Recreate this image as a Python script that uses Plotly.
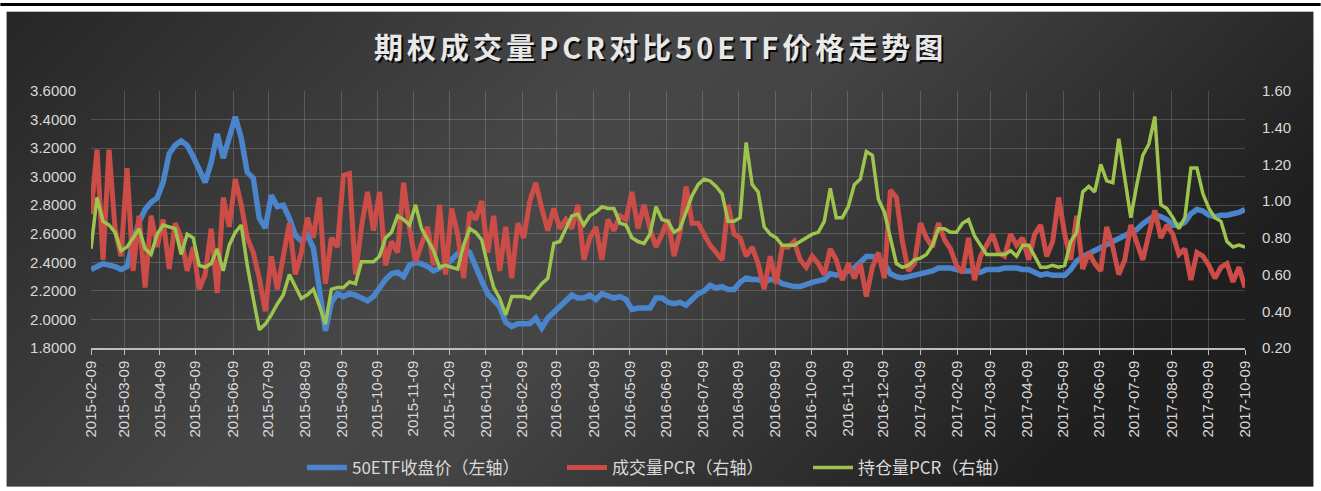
import base64
import plotly.graph_objects as go

# ---------------- data (~every 3-4 trading days) ----------------
TICK_LABELS = [
    "2015-02-09", "2015-03-09", "2015-04-09", "2015-05-09", "2015-06-09", "2015-07-09",
    "2015-08-09", "2015-09-09", "2015-10-09", "2015-11-09", "2015-12-09", "2016-01-09",
    "2016-02-09", "2016-03-09", "2016-04-09", "2016-05-09", "2016-06-09", "2016-07-09",
    "2016-08-09", "2016-09-09", "2016-10-09", "2016-11-09", "2016-12-09", "2017-01-09",
    "2017-02-09", "2017-03-09", "2017-04-09", "2017-05-09", "2017-06-09", "2017-07-09",
    "2017-08-09", "2017-09-09", "2017-10-09",
]
# position of each monthly label along the sample index (category axis of trading days)
TICK_POS = [0, 5.49, 11.47, 17.39, 23.66, 29.48, 35.58, 41.74, 47.66, 53.64, 59.63,
            65.68, 71.77, 77.37, 83.64, 89.62, 95.71, 101.81, 107.75, 113.83, 119.82,
            125.92, 131.74, 138.01, 144.10, 149.65, 155.69, 161.72, 167.71, 173.53,
            179.80, 185.90, 192.0]

etf_close = [
    2.35, 2.37, 2.39, 2.38, 2.37, 2.35, 2.37, 2.55, 2.68, 2.77,
    2.82, 2.85, 2.96, 3.16, 3.22, 3.25, 3.22, 3.14, 3.06, 2.96,
    3.10, 3.30, 3.13, 3.29, 3.42, 3.27, 3.03, 2.99, 2.71, 2.64,
    2.87, 2.79, 2.80, 2.71, 2.59, 2.55, 2.59, 2.50, 2.20,
    1.92, 2.12, 2.18, 2.16, 2.18, 2.17, 2.15, 2.13, 2.16, 2.22, 2.28,
    2.32, 2.33, 2.30, 2.38, 2.40, 2.39, 2.37, 2.34, 2.36, 2.38,
    2.42, 2.46, 2.50, 2.47, 2.36, 2.27, 2.18, 2.14, 2.09, 1.98,
    1.95, 1.97, 1.97, 1.97, 2.01, 1.94, 2.01, 2.05,
    2.10, 2.13, 2.17, 2.15, 2.15, 2.17, 2.14, 2.18, 2.16, 2.15,
    2.16, 2.14, 2.07, 2.08, 2.08, 2.08, 2.15, 2.15, 2.12, 2.11,
    2.12, 2.10, 2.14, 2.18, 2.20, 2.24, 2.22, 2.23, 2.21, 2.21,
    2.26, 2.29, 2.28, 2.28, 2.26, 2.28, 2.28, 2.25,
    2.24, 2.23, 2.23, 2.25, 2.26, 2.27, 2.28, 2.32, 2.31, 2.32,
    2.34, 2.36, 2.40, 2.44, 2.44, 2.43, 2.39, 2.32, 2.30, 2.29,
    2.30, 2.31, 2.32, 2.33, 2.34, 2.36, 2.36, 2.36, 2.35, 2.34,
    2.34, 2.34, 2.33, 2.35, 2.35, 2.35, 2.36, 2.36, 2.36,
    2.35, 2.35, 2.33, 2.31, 2.32, 2.31, 2.31, 2.31, 2.35, 2.41,
    2.44, 2.46, 2.48, 2.50, 2.52, 2.54, 2.56, 2.58, 2.61, 2.63,
    2.67, 2.70, 2.73, 2.72, 2.70, 2.66, 2.66, 2.68, 2.74, 2.77,
    2.76, 2.73, 2.72, 2.73, 2.73, 2.74, 2.75, 2.77,
]

volume_pcr = [
    0.93, 1.28, 0.68, 1.28, 0.85, 0.70, 1.18, 0.62, 0.92, 0.53,
    0.92, 0.75, 0.90, 0.63, 0.88, 0.80, 0.62, 0.75, 0.52, 0.60,
    0.85, 0.50, 1.02, 0.86, 1.12, 0.98, 0.80, 0.72, 0.58, 0.40,
    0.70, 0.52, 0.70, 0.88, 0.60, 0.72, 0.91, 0.80, 1.02,
    0.55, 0.80, 0.75, 1.14, 1.15, 0.60, 0.86, 1.05, 0.84, 1.05, 0.65,
    0.78, 0.72, 1.10, 0.85, 0.67, 0.76, 0.86, 0.65, 0.98, 0.60,
    0.96, 0.82, 0.58, 0.94, 0.90, 1.00, 0.72, 0.92, 0.62, 0.86,
    0.58, 0.88, 0.80, 1.00, 1.10, 0.96, 0.84, 0.96,
    0.85, 0.90, 0.85, 0.98, 0.68, 0.80, 0.86, 0.68, 0.90, 0.84,
    0.92, 0.90, 1.05, 0.85, 0.98, 0.85, 0.75, 0.82, 0.90, 0.70,
    0.83, 1.08, 0.88, 0.88, 0.82, 0.76, 0.72, 0.68, 0.98, 0.82,
    0.80, 0.70, 0.75, 0.66, 0.52, 0.70, 0.55, 0.75,
    0.75, 0.78, 0.68, 0.64, 0.70, 0.66, 0.60, 0.74, 0.68, 0.57,
    0.66, 0.58, 0.66, 0.48, 0.64, 0.72, 0.58, 1.06, 1.02, 0.78,
    0.62, 0.66, 0.88, 0.80, 0.75, 0.88, 0.79, 0.74, 0.65, 0.61,
    0.80, 0.57, 0.70, 0.76, 0.82, 0.72, 0.70, 0.82, 0.76,
    0.80, 0.68, 0.82, 0.87, 0.70, 0.78, 1.02, 0.82, 0.68, 0.92,
    0.63, 0.72, 0.66, 0.62, 0.86, 0.75, 0.60, 0.68, 0.87, 0.78,
    0.68, 0.82, 0.95, 0.80, 0.87, 0.82, 0.71, 0.74, 0.57, 0.72,
    0.70, 0.65, 0.58, 0.64, 0.66, 0.56, 0.64, 0.53,
]

oi_pcr = [
    0.74, 1.02, 0.89, 0.87, 0.83, 0.73, 0.75, 0.80, 0.85, 0.74,
    0.71, 0.82, 0.87, 0.86, 0.85, 0.71, 0.82, 0.80, 0.65, 0.64,
    0.66, 0.74, 0.62, 0.76, 0.83, 0.87, 0.65, 0.47, 0.30, 0.33,
    0.38, 0.44, 0.49, 0.60, 0.53, 0.47, 0.49, 0.52, 0.43,
    0.33, 0.52, 0.53, 0.53, 0.56, 0.55, 0.67, 0.67, 0.67, 0.70, 0.80,
    0.83, 0.92, 0.90, 0.87, 0.98, 0.85, 0.79, 0.73, 0.64, 0.65,
    0.64, 0.63, 0.76, 0.85, 0.83, 0.79, 0.65, 0.53, 0.47, 0.38,
    0.48, 0.48, 0.48, 0.47, 0.51, 0.55, 0.58, 0.77,
    0.78, 0.85, 0.92, 0.93, 0.87, 0.92, 0.94, 0.97, 0.96, 0.96,
    0.88, 0.87, 0.80, 0.78, 0.77, 0.82, 0.97, 0.90, 0.89, 0.83,
    0.85, 0.94, 1.03, 1.09, 1.12, 1.11, 1.08, 1.04, 0.89, 0.89,
    0.91, 1.32, 1.09, 1.05, 0.86, 0.82, 0.80, 0.76,
    0.76, 0.76, 0.78, 0.80, 0.82, 0.83, 0.89, 1.07, 0.91, 0.91,
    0.97, 1.09, 1.12, 1.27, 1.25, 1.01, 0.94, 0.80, 0.66, 0.64,
    0.65, 0.68, 0.69, 0.71, 0.76, 0.85, 0.85, 0.83, 0.83, 0.88,
    0.90, 0.81, 0.76, 0.71, 0.71, 0.71, 0.71, 0.73, 0.70,
    0.76, 0.76, 0.70, 0.64, 0.64, 0.65, 0.64, 0.65, 0.78, 0.83,
    1.05, 1.08, 1.05, 1.20, 1.11, 1.10, 1.34, 1.12, 0.91, 1.09,
    1.25, 1.31, 1.46, 0.98, 0.96, 0.91, 0.85, 0.91, 1.18, 1.18,
    1.04, 0.96, 0.91, 0.89, 0.78, 0.75, 0.76, 0.75,
]

LEFT_TICKS = [1.8, 2.0, 2.2, 2.4, 2.6, 2.8, 3.0, 3.2, 3.4, 3.6]
RIGHT_TICKS = [0.2, 0.4, 0.6, 0.8, 1.0, 1.2, 1.4, 1.6]

TITLE = "期权成交量PCR对比50ETF价格走势图"
NAMES = ["50ETF收盘价（左轴）", "成交量PCR（右轴）", "持仓量PCR（右轴）"]

# ---------------- layout geometry ----------------
W, H = 1321, 491
ML, MR, MT, MB = 90.7, 75.7, 90.7, 143.0
PW, PH = W - ML - MR, H - MT - MB


def px_x(px):
    return (px - ML) / PW


def px_y(py):
    return (H - MB - py) / PH


FONT = "Liberation Sans, Arial, Noto Sans CJK SC, sans-serif"
CJK = "Noto Sans CJK SC, Microsoft YaHei, sans-serif"
TXT = "#d9d9d9"

idx = list(range(len(etf_close)))

fig = go.Figure()
fig.add_trace(go.Scatter(x=idx, y=etf_close, name=NAMES[0], mode="lines",
                         line=dict(color="#4a85cc", width=5.5), yaxis="y",
                         legendwidth=205))
fig.add_trace(go.Scatter(x=idx, y=volume_pcr, name=NAMES[1], mode="lines",
                         line=dict(color="#cc4d48", width=5), yaxis="y2",
                         legendwidth=191))
fig.add_trace(go.Scatter(x=idx, y=oi_pcr, name=NAMES[2], mode="lines",
                         line=dict(color="#9dc44d", width=3.5), yaxis="y2",
                         legendwidth=191))

# dark gradient background panel (as inline SVG image)
svg = (
    '<svg xmlns="http://www.w3.org/2000/svg" width="1308" height="476">'
    '<defs><linearGradient id="g" x1="0" y1="0" x2="1" y2="0.35">'
    '<stop offset="0" stop-color="#262626"/>'
    '<stop offset="0.45" stop-color="#474747"/>'
    '<stop offset="0.6" stop-color="#444444"/>'
    '<stop offset="1" stop-color="#1f1f1f"/>'
    '</linearGradient></defs>'
    '<rect width="1308" height="476" fill="url(#g)"/></svg>'
)
src = "data:image/svg+xml;base64," + base64.b64encode(svg.encode()).decode()
fig.add_layout_image(dict(source=src, xref="paper", yref="paper",
                          x=px_x(6), y=px_y(11),
                          sizex=px_x(1314) - px_x(6), sizey=px_y(11) - px_y(487),
                          xanchor="left", yanchor="top", sizing="stretch", layer="below"))

# top black rule
fig.add_shape(type="line", xref="paper", yref="paper",
              x0=px_x(0), x1=px_x(W), y0=px_y(4), y1=px_y(4),
              line=dict(color="black", width=3))

# title with shadow
for dx, dy, col in [(2, -2, "rgba(0,0,0,0.85)"), (0, 0, "#e8e8e8")]:
    fig.add_annotation(text="<b>" + TITLE + "</b>", xref="paper", yref="paper",
                       x=px_x(660 + dx), y=px_y(46 - dy), showarrow=False,
                       xanchor="center", yanchor="middle",
                       font=dict(family=CJK, size=29, color=col))

grid = "rgba(255,255,255,0.17)"
fig.update_layout(
    width=W, height=H,
    margin=dict(l=ML, r=MR, t=MT, b=MB, pad=0, autoexpand=False),
    paper_bgcolor="white",
    plot_bgcolor="rgba(0,0,0,0)",
    showlegend=True,
    legend=dict(orientation="h", x=px_x(678), xanchor="center", y=px_y(468),
                yanchor="middle",
                font=dict(family=CJK, size=17, color=TXT), bgcolor="rgba(0,0,0,0)",
                itemwidth=40, traceorder="normal"),
    xaxis=dict(range=[0, len(etf_close) - 1], tickmode="array", tickvals=TICK_POS,
               ticktext=TICK_LABELS, tickangle=-90, showgrid=True, gridcolor=grid,
               gridwidth=1, showline=True, linecolor="#bdbdbd", linewidth=1.5,
               ticks="outside", ticklen=5, tickcolor="#bdbdbd", automargin=False,
               tickfont=dict(family=FONT, size=15, color=TXT), zeroline=False),
    yaxis=dict(range=[1.8, 3.6], tickmode="array", tickvals=LEFT_TICKS,
               tickformat=".4f", showgrid=True, gridcolor=grid, gridwidth=1,
               zeroline=False, showline=False, ticks="", ticklabelstandoff=14,
               automargin=False,
               tickfont=dict(family=FONT, size=15, color=TXT)),
    yaxis2=dict(range=[0.2, 1.6], tickmode="array", tickvals=RIGHT_TICKS,
                tickformat=".2f", overlaying="y", side="right", showgrid=False,
                zeroline=False, showline=False, ticks="", ticklabelstandoff=16,
                automargin=False,
                tickfont=dict(family=FONT, size=15, color=TXT)),
)

POST = ("document.body.style.margin='0';"
        "document.querySelectorAll('.annotation-text').forEach(function(e){"
        "e.style.letterSpacing='4px';});")
fig.write_html("out.html", post_script=POST, config={"displayModeBar": False})
